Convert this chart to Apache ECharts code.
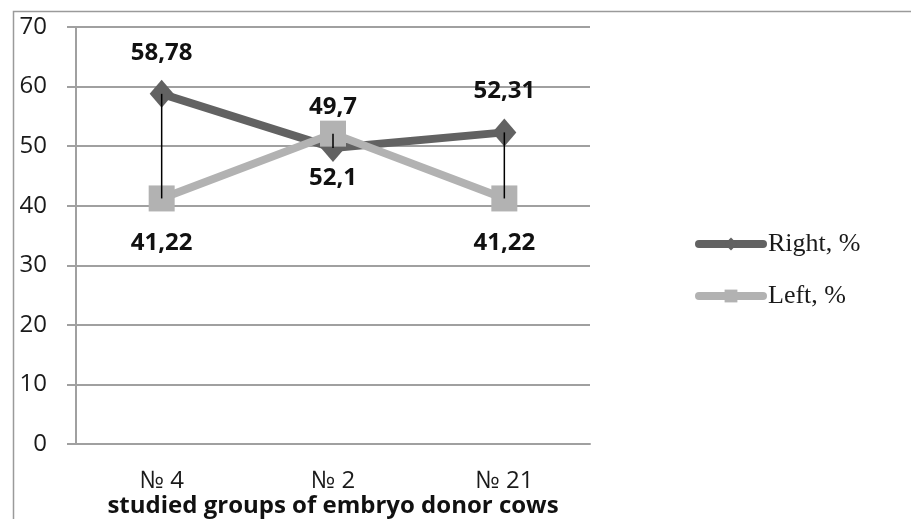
<!DOCTYPE html>
<html>
<head>
<meta charset="utf-8">
<script src="https://cdn.jsdelivr.net/npm/echarts@6/dist/echarts.min.js"></script>
<style>html,body{margin:0;padding:0;background:#fff}#c{width:911px;height:519px}</style>
</head>
<body>
<div id="c"></div>
<script>
const categories = ['№ 4', '№ 2', '№ 21'];
const rightValues = [58.78, 49.7, 52.31];
const leftValues = [41.22, 52.1, 41.22];
const yTicks = [0, 10, 20, 30, 40, 50, 60, 70];
const seriesNames = ['Right, %', 'Left, %'];
const axisTitle = 'studied groups of embryo donor cows';

const chart = echarts.init(document.getElementById('c'), null, {renderer: 'canvas'});
const fmt = p => String(p.value).replace('.', ',');
const hiLo = categories.map((c, i) => [i, rightValues[i], leftValues[i]]);

chart.setOption({
  animation: false,
  backgroundColor: '#fff',
  graphic: [{
    type: 'rect', left: 11, top: 9, silent: true,
    shape: {width: 920, height: 540},
    style: {fill: 'none', stroke: '#9a9a9a', lineWidth: 1.5}
  }],
  grid: {left: 76, right: 321, top: 27, bottom: 75, containLabel: false, outerBoundsMode: 'none'},
  legend: {
    orient: 'vertical', left: 690, top: 226,
    itemWidth: 64, itemHeight: 16, itemGap: 26,
    data: seriesNames,
    lineStyle: {width: 8, cap: 'round'},
    textStyle: {fontFamily: 'Liberation Serif', fontSize: 26, color: '#1a1a1a'}
  },
  xAxis: {
    type: 'category', data: categories, boundaryGap: true,
    axisLine: {show: true, lineStyle: {color: '#a0a0a0', width: 2}},
    axisTick: {show: false},
    axisLabel: {fontFamily: 'Open Sans', fontSize: 24, color: '#1a1a1a', margin: 25},
    name: axisTitle, nameLocation: 'middle', nameGap: 50, nameMoveOverlap: false,
    nameTextStyle: {fontFamily: 'Open Sans', fontWeight: 'bold', fontSize: 24, color: '#111'}
  },
  yAxis: {
    type: 'value', min: yTicks[0], max: yTicks[yTicks.length - 1], interval: 10,
    axisLine: {show: true, lineStyle: {color: '#a0a0a0', width: 2}},
    axisTick: {show: true, inside: false, length: 9, lineStyle: {color: '#a0a0a0', width: 2}},
    splitLine: {show: true, lineStyle: {color: '#a0a0a0', width: 2}},
    axisLabel: {fontFamily: 'Open Sans', fontSize: 24, color: '#1a1a1a', margin: 29}
  },
  series: [
    {
      name: seriesNames[0], type: 'line', data: rightValues,
      symbol: 'diamond', symbolSize: [24, 28],
      lineStyle: {color: '#626262', width: 8},
      itemStyle: {color: '#626262'},
      label: {show: true, position: 'inside', offset: [0, -41], formatter: fmt,
        fontFamily: 'Open Sans', fontWeight: 'bold', fontSize: 24, color: '#111'},
      z: 2
    },
    {
      name: seriesNames[1], type: 'line', data: leftValues,
      symbol: 'rect', symbolSize: [26, 26],
      lineStyle: {color: '#b2b2b2', width: 8},
      itemStyle: {color: '#b2b2b2'},
      label: {show: true, position: 'inside', offset: [0, 45], formatter: fmt,
        fontFamily: 'Open Sans', fontWeight: 'bold', fontSize: 24, color: '#111'},
      z: 3
    },
    {
      type: 'custom', data: hiLo, z: 5, silent: true,
      renderItem: function (params, api) {
        const a = api.coord([api.value(0), api.value(1)]);
        const b = api.coord([api.value(0), api.value(2)]);
        return {type: 'line', shape: {x1: a[0], y1: a[1], x2: b[0], y2: b[1]},
          style: {stroke: '#000', lineWidth: 1.5}};
      },
      encode: {x: 0, y: [1, 2]}
    }
  ]
});
</script>
</body>
</html>
